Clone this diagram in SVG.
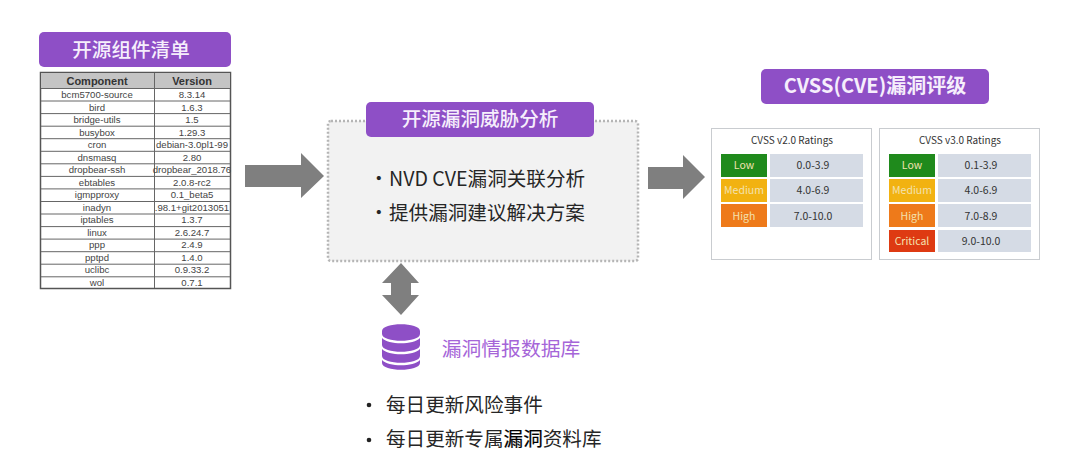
<svg xmlns="http://www.w3.org/2000/svg" width="1080" height="458" viewBox="0 0 1080 458">
<style>
text{font-family:"Noto Sans CJK SC","Noto Sans",sans-serif;text-anchor:middle}
.title{fill:#8e4fc6}
.tt{fill:#f6eefc;font-size:19.600px;font-weight:500}
.arrow{fill:#7f7f7f}
.tbl{font-family:"Liberation Sans",Arial,sans-serif;font-size:9.6px;fill:#444}
.th{font-family:"Liberation Sans",Arial,sans-serif;font-size:11px;font-weight:700;fill:#333}
.line{stroke:#666;stroke-width:1;fill:none}
.card{fill:#fff;stroke:#c9ccd0;stroke-width:1}
.ch{font-size:10px;fill:#333}
.val{fill:#d5dbe5}
.vt{font-size:10.5px;fill:#333}
.lt{font-size:10.5px;fill:#f3e2b0}
.body{font-size:19.600px;fill:#262626;text-anchor:start}
.db{fill:#8e4fc6}
</style>
<rect width="1080" height="458" fill="#fff"/>
<g id="connectors">
<path class="arrow" d="M245 165H301V153L324 176L301 198V187H245Z"/>
<path class="arrow" d="M648 167H683V155L705 177L683 199V189H648Z"/>
<path class="arrow" d="M401 263L419 283H411V295H419L401 315L382 295H391V283H382Z"/>
</g>
<g id="node-components">
<rect class="title" x="39" y="32" width="192" height="35" rx="5"/>
<text class="tt" x="131" y="57">开源组件清单</text>
<rect x="40.500" y="72.500" width="190" height="216" fill="#fff" stroke="#555" stroke-width="1.500"/>
<rect x="41" y="73" width="189" height="15" fill="#c4c4c4"/>
<path class="line" d="M154.500 73V288M41 88.500H230M41 101H230M41 113.600H230M41 126.200H230M41 138.700H230M41 151.300H230M41 163.800H230M41 176.400H230M41 188.900H230M41 201.500H230M41 214H230M41 226.600H230M41 239.100H230M41 251.700H230M41 264.200H230M41 276.800H230"/>
<text class="th" x="97" y="84.500">Component</text><text class="th" x="192" y="84.500">Version</text>
<text class="tbl" x="97" y="98">bcm5700-source</text><text class="tbl" x="192" y="98">8.3.14</text>
<text class="tbl" x="97" y="110.500">bird</text><text class="tbl" x="192" y="110.500">1.6.3</text>
<text class="tbl" x="97" y="123">bridge-utils</text><text class="tbl" x="192" y="123">1.5</text>
<text class="tbl" x="97" y="135.500">busybox</text><text class="tbl" x="192" y="135.500">1.29.3</text>
<text class="tbl" x="97" y="148">cron</text><text class="tbl" x="192" y="148">debian-3.0pl1-99</text>
<text class="tbl" x="97" y="160.500">dnsmasq</text><text class="tbl" x="192" y="160.500">2.80</text>
<text class="tbl" x="97" y="173">dropbear-ssh</text><text class="tbl" x="192" y="173">dropbear_2018.76</text>
<text class="tbl" x="97" y="185.500">ebtables</text><text class="tbl" x="192" y="185.500">2.0.8-rc2</text>
<text class="tbl" x="97" y="198">igmpproxy</text><text class="tbl" x="192" y="198">0.1_beta5</text>
<text class="tbl" x="97" y="210.500">inadyn</text><text class="tbl" x="192" y="210.500">.98.1+git2013051</text>
<text class="tbl" x="97" y="223">iptables</text><text class="tbl" x="192" y="223">1.3.7</text>
<text class="tbl" x="97" y="235.500">linux</text><text class="tbl" x="192" y="235.500">2.6.24.7</text>
<text class="tbl" x="97" y="248">ppp</text><text class="tbl" x="192" y="248">2.4.9</text>
<text class="tbl" x="97" y="260.500">pptpd</text><text class="tbl" x="192" y="260.500">1.4.0</text>
<text class="tbl" x="97" y="273">uclibc</text><text class="tbl" x="192" y="273">0.9.33.2</text>
<text class="tbl" x="97" y="285.500">wol</text><text class="tbl" x="192" y="285.500">0.7.1</text>
</g>
<g id="node-analysis">
<rect x="328" y="121" width="310" height="140" rx="3" fill="#f2f2f2" stroke="#b5b5b5" stroke-width="2.500" stroke-dasharray="2 2"/>
<rect class="title" x="366" y="102" width="228" height="35" rx="5"/>
<text class="tt" x="480" y="126">开源漏洞威胁分析</text>
<text class="body" x="369" y="186">·</text>
<text class="body" x="389" y="186">NVD CVE漏洞关联分析</text>
<text class="body" x="369" y="220">·</text>
<text class="body" x="389" y="220">提供漏洞建议解决方案</text>
</g>
<g id="node-cvss-title">
<rect class="title" x="761" y="69" width="228" height="35" rx="5"/>
<text x="875" y="93" font-size="20" font-weight="700" fill="#f6eefc">CVSS(CVE)漏洞评级</text>
</g>
<g id="node-cvss2">
<rect class="card" x="711.500" y="128.500" width="160" height="131"/>
<text class="ch" x="792" y="144">CVSS v2.0 Ratings</text>
<rect x="721" y="154" width="46" height="23" fill="#1f8a1c"/><rect class="val" x="770" y="154" width="93" height="23"/>
<rect x="721" y="179" width="46" height="23" fill="#f2b211"/><rect class="val" x="770" y="179" width="93" height="23"/>
<rect x="721" y="204" width="46" height="23" fill="#ee7a1a"/><rect class="val" x="770" y="204" width="93" height="23"/>
<text class="lt" x="744" y="168.500">Low</text><text class="vt" x="813" y="168.500">0.0-3.9</text>
<text class="lt" x="744" y="194">Medium</text><text class="vt" x="813" y="194">4.0-6.9</text>
<text class="lt" x="744" y="219.500">High</text><text class="vt" x="813" y="219.500">7.0-10.0</text>
</g>
<g id="node-cvss3">
<rect class="card" x="879.500" y="128.500" width="160" height="131"/>
<text class="ch" x="960" y="144">CVSS v3.0 Ratings</text>
<rect x="889" y="154" width="46" height="23" fill="#1f8a1c"/><rect class="val" x="938" y="154" width="93" height="23"/>
<rect x="889" y="179" width="46" height="23" fill="#f2b211"/><rect class="val" x="938" y="179" width="93" height="23"/>
<rect x="889" y="204" width="46" height="23" fill="#ee7a1a"/><rect class="val" x="938" y="204" width="93" height="23"/>
<rect x="889" y="230" width="46" height="22" fill="#de3a12"/><rect class="val" x="938" y="230" width="93" height="22"/>
<text class="lt" x="912" y="168.500">Low</text><text class="vt" x="981" y="168.500">0.1-3.9</text>
<text class="lt" x="912" y="194">Medium</text><text class="vt" x="981" y="194">4.0-6.9</text>
<text class="lt" x="912" y="219.500">High</text><text class="vt" x="981" y="219.500">7.0-8.9</text>
<text class="lt" x="912" y="245">Critical</text><text class="vt" x="981" y="245">9.0-10.0</text>
</g>
<g id="node-database">
<path class="db" d="M382 331C382 322 420 322 420 331V334C420 343 382 343 382 334Z"/>
<path class="db" d="M382 338C388 345 414 345 420 338V345C420 354 382 354 382 345Z"/>
<path class="db" d="M382 349C388 356 414 356 420 349V356C420 365 382 365 382 356Z"/>
<path class="db" d="M382 360C388 367 414 367 420 360V363C420 372 382 372 382 363Z"/>
<text x="511" y="356" font-size="19.800" fill="#a565d8">漏洞情报数据库</text>
</g>
<g id="node-feeds">
<circle cx="369" cy="405" r="2.300" fill="#222"/>
<text class="body" x="386" y="412">每日更新风险事件</text>
<circle cx="369" cy="440" r="2.300" fill="#222"/>
<text class="body" x="386" y="446">每日更新专属<tspan fill="#000" stroke="#000" stroke-width="0.200">漏洞</tspan>资料库</text>
</g>
</svg>
